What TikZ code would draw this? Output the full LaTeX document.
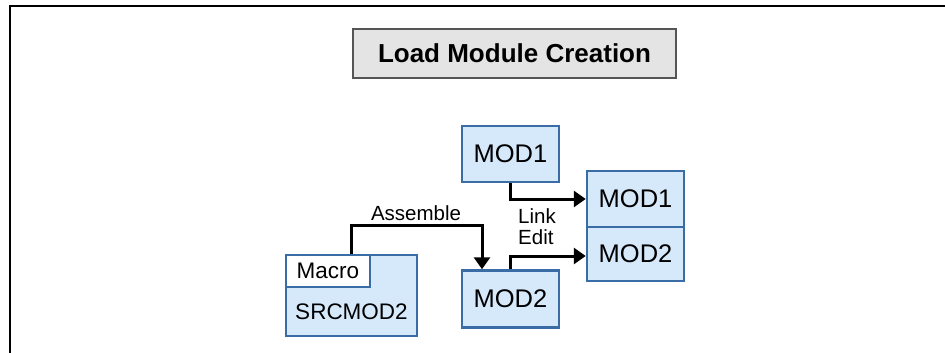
\documentclass[tikz,border=0pt]{standalone}
\usepackage{fontspec}
\setmainfont{Liberation Sans}
\usetikzlibrary{arrows.meta}
\definecolor{boxfill}{HTML}{D6E9FB}
\definecolor{boxline}{HTML}{3A6DA6}
\definecolor{titlefill}{HTML}{E4E4E4}
\definecolor{titleline}{HTML}{555555}
\tikzset{
  modbox/.style={draw=boxline, fill=boxfill, line width=2.5pt, inner sep=0pt, font=\fontsize{25.5}{30}\selectfont},
  arr/.style={line width=3pt, -{Triangle[length=12pt,width=16pt]}},
  lbl/.style={font=\fontsize{20.5}{24}\selectfont, inner sep=0pt}
}
\begin{document}
\begin{tikzpicture}[x=1pt,y=-1pt]
\useasboundingbox (0,0) rectangle (945,353);
% frame
\draw[line width=2pt] (9.5,353) -- (9.5,6.5) -- (945,6.5);
% title
\node[draw=titleline, fill=titlefill, line width=2.5pt, minimum width=323pt, minimum height=49pt, inner sep=0pt, font=\bfseries\fontsize{26}{30}\selectfont] (title) at (514.5,53.5) {Load Module Creation};
% boxes
\node[modbox, minimum width=97pt, minimum height=56pt] (mod1a) at (510.5,154) {MOD1};
\node[modbox, minimum width=97pt, minimum height=57pt] (mod2b) at (510.5,299) {MOD2};
\node[modbox, minimum width=97pt, minimum height=56pt] (s1) at (635.5,199) {MOD1};
\node[modbox, minimum width=97pt, minimum height=54pt] (s2) at (635.5,254) {MOD2};
\node[modbox, minimum width=131pt, minimum height=81pt, font=\fontsize{22.5}{27}\selectfont, text depth=0pt] (src) at (351.5,295.5) {};
\node[inner sep=0pt, font=\fontsize{22.5}{27}\selectfont] (srctext) at (351.5,312) {SRCMOD2};
\node[draw=boxline, fill=white, line width=2.5pt, inner sep=0pt, minimum width=84pt, minimum height=32pt, font=\fontsize{22.5}{27}\selectfont] (macro) at (328,271) {Macro};
% connectors
\draw[arr] ([xshift=23pt]macro.north) -- ++(0,-28) coordinate (bend) -| ([xshift=-28.5pt]mod2b.north);
\node[lbl] (assemble) at (416,213) {Assemble};
\draw[arr] (mod1a.south) |- (s1.west);
\draw[arr] (mod2b.north) |- ([yshift=-2pt]s2.west);
\node[lbl, anchor=west, align=left] (link) at (518,226.5) {Link\\[-3pt]Edit};
\end{tikzpicture}
\end{document}
